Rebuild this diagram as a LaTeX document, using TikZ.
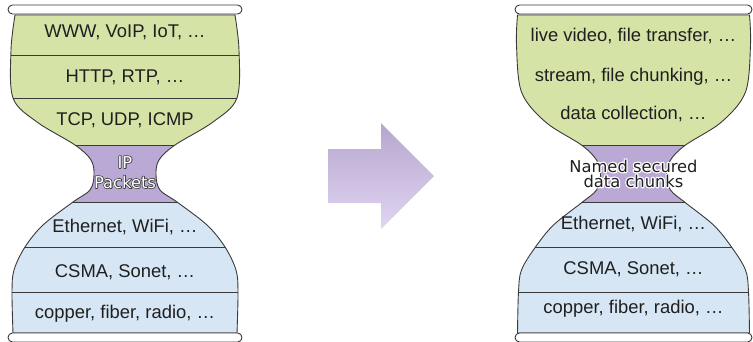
\documentclass[tikz,border=0pt]{standalone}
\usepackage{fontspec}
\setmainfont{Liberation Sans}
\newfontfamily\haloface{DejaVu Sans}
\usetikzlibrary{calc}
\definecolor{grn}{HTML}{D5E3A6}
\definecolor{blu}{HTML}{D6E6F4}
\definecolor{prp}{HTML}{B9A9D4}
\definecolor{edge}{HTML}{3A3A3A}
\definecolor{arrtop}{HTML}{B6A6CD}
\definecolor{arrbot}{HTML}{E0D5F2}
% white letters with a dark outline: stroked underlay, then the white fill on top
\newcommand\outlinedword[1]{\rlap{\special{pdf:literal direct 0.25 G 1.6 w 1 j 1 Tr}#1\special{pdf:literal direct 0 Tr}}#1}
% dark letters with a white halo
\newcommand\haloword[1]{\rlap{\special{pdf:literal direct 1 G 2.6 w 1 j 1 Tr}#1\special{pdf:literal direct 0 Tr}}#1}
\tikzset{
  layer/.style={font=\fontsize{18.4}{21}\selectfont, inner sep=0pt, anchor=base, text=black!88},
  halo/.style={font=\haloface\fontsize{16.3}{17}\selectfont, inner sep=0pt, anchor=base},
  outl/.style={draw=edge, line width=0.9pt},
  bar/.style={draw=edge, line width=0.9pt, fill=white, rounded corners=4.5pt},
  sep/.style={draw=edge, line width=0.8pt}
}
\begin{document}
\begin{tikzpicture}[x=1pt,y=-1pt]
\useasboundingbox (0,0) rectangle (753,341);

% ---------- left hourglass ----------
\begin{scope}[shift={(125,0)}]
\def\glassL{plot[smooth,tension=0.55] coordinates {(-110,15) (-114,50) (-112,98) (-88,122) (-50,145) (-34,160) (-31,175) (-35,190) (-52,202) (-82,225) (-100,247) (-111,270) (-113,292) (-112,333)}
 -- plot[smooth,tension=0.55] coordinates {(112,333) (113,292) (111,270) (100,247) (82,225) (52,202) (35,190) (31,175) (34,160) (50,145) (88,122) (112,98) (114,50) (110,15)} -- cycle}
\begin{scope}
\clip \glassL;
\fill[grn] (-130,0) rectangle (130,145);
\fill[prp] (-130,145) rectangle (130,202);
\fill[blu] (-130,202) rectangle (130,345);
\draw[sep] (-130,55) -- (130,55);
\draw[sep] (-130,98) -- (130,98);
\draw[sep] (-130,145) -- (130,145);
\draw[sep] (-130,202) -- (130,202);
\draw[sep] (-130,247) -- (130,247);
\draw[sep] (-130,292) -- (130,292);
\end{scope}
\draw[outl] \glassL;
\draw[bar] (-117,5) rectangle (117,14);
\draw[bar] (-117,333) rectangle (117,342);
\node[layer] (l1) at (0,37) {WWW, VoIP, IoT, …};
\node[layer] (l2) at (0,82) {HTTP, RTP, …};
\node[layer] (l3) at (0,125) {TCP, UDP, ICMP};
\node[halo, text=white] (l4a) at (0,168) {\outlinedword{IP}};
\node[halo, text=white] (l4b) at (0,188) {\outlinedword{Packets}};
\node[layer] (l5) at (0,232) {Ethernet, WiFi, …};
\node[layer] (l6) at (0,277) {CSMA, Sonet, …};
\node[layer] (l7) at (0,318) {copper, fiber, radio, …};
\end{scope}

% ---------- arrow ----------
\shade[top color=arrtop, bottom color=arrbot] (328,149) -- (381,149) -- (381,123) -- (434,176) -- (381,229) -- (381,203) -- (328,203) -- cycle;

% ---------- right hourglass ----------
\begin{scope}[shift={(633.5,0)}]
\def\glassR{plot[smooth,tension=0.55] coordinates {(-116,15) (-117,45) (-112,92) (-88,122) (-52,145) (-37,160) (-33,175) (-37,190) (-51,202) (-80,225) (-98,247) (-112,270) (-115,292) (-116,333)}
 -- plot[smooth,tension=0.55] coordinates {(116,333) (115,292) (112,270) (98,247) (80,225) (51,202) (37,190) (33,175) (37,160) (52,145) (88,122) (112,92) (117,45) (116,15)} -- cycle}
\begin{scope}
\clip \glassR;
\fill[grn] (-130,0) rectangle (130,145);
\fill[prp] (-130,145) rectangle (130,202);
\fill[blu] (-130,202) rectangle (130,345);
\draw[sep] (-130,145) -- (130,145);
\draw[sep] (-130,202) -- (130,202);
\draw[sep] (-130,247) -- (130,247);
\draw[sep] (-130,292) -- (130,292);
\end{scope}
\draw[outl] \glassR;
\draw[bar] (-118.5,5) rectangle (118.5,14);
\draw[bar] (-118.5,333) rectangle (118.5,342);
\node[layer] (r1) at (0,41) {live video, file transfer, …};
\node[layer] (r2) at (0,81) {stream, file chunking, …};
\node[layer] (r3) at (0,119) {data collection, …};
\node[halo, text=black!88] (r4a) at (0,172) {\haloword{Named secured}};
\node[halo, text=black!88] (r4b) at (0,187) {\haloword{data chunks}};
\node[layer] (r5) at (0,229) {Ethernet, WiFi, …};
\node[layer] (r6) at (0,274) {CSMA, Sonet, …};
\node[layer] (r7) at (0,313) {copper, fiber, radio, …};
\end{scope}
\end{tikzpicture}
\end{document}
